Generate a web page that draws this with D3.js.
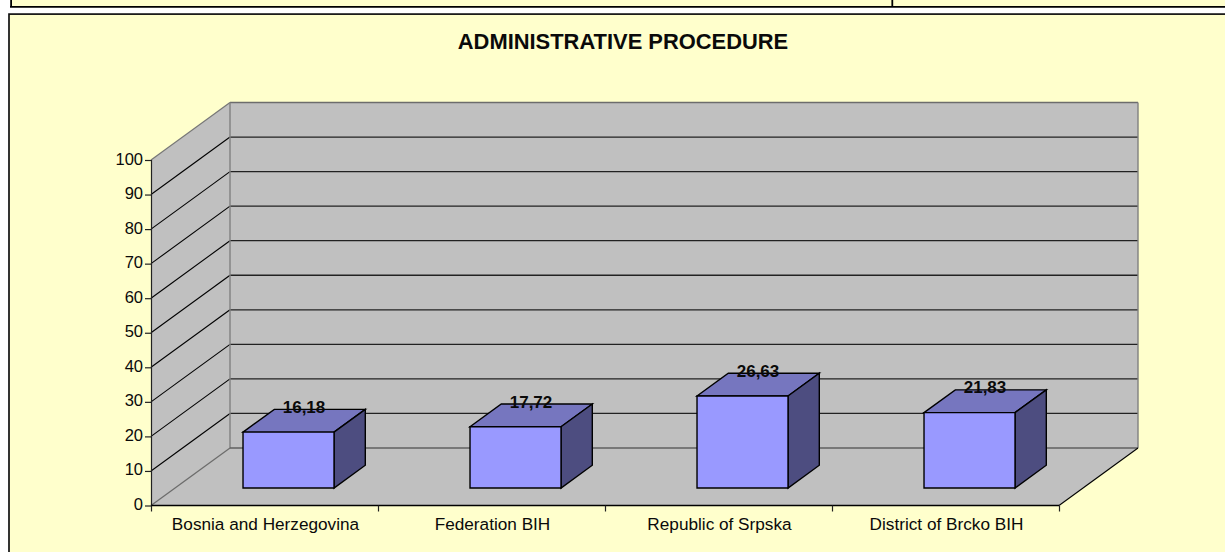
<!DOCTYPE html>
<html><head><meta charset="utf-8">
<script src="https://cdn.jsdelivr.net/npm/d3@7/dist/d3.min.js"></script>
<style>html,body{margin:0;padding:0;background:#fff}svg{display:block}text{font-family:"Liberation Sans",Arial,sans-serif;fill:#0a0a0a}</style>
</head><body><svg id="c" width="1225" height="552"></svg>
<script>
const categories = ["Bosnia and Herzegovina","Federation BIH","Republic of Srpska","District of Brcko BIH"];
const seriesValues = [16.18,17.72,26.63,21.83];
const valueLabels = ["16,18","17,72","26,63","21,83"];
const yTicks = [0,10,20,30,40,50,60,70,80,90,100];
const chartTitle = "ADMINISTRATIVE PROCEDURE";

const svg = d3.select("#c");
const bg = "#ffffcc", wall = "#c0c0c0";
const x = d3.scaleBand().domain(categories).range([151,1059]);
const y = d3.scaleLinear().domain([0,100]).range([505.5,160]);
const dx = 79, dy = -57.5;          // depth vector of the 3-D box
const barFront = 0.304, barBack = 0.70, barW = 91;

const poly = (pts,fill,stroke,sw) => svg.append("polygon").attr("points",pts.map(p=>p.join(",")).join(" "))
  .attr("fill",fill).attr("stroke",stroke||"none").attr("stroke-width",sw||0).attr("stroke-linejoin","miter");
const line = (a,b,stroke,sw) => svg.append("line").attr("x1",a[0]).attr("y1",a[1]).attr("x2",b[0]).attr("y2",b[1]).attr("stroke",stroke).attr("stroke-width",sw);

// page frames
svg.append("rect").attr("x",11).attr("y",0).attr("width",1214).attr("height",6).attr("fill",bg);
line([10,6.9],[1225,6.9],"#000",1.8);
line([11.1,0],[11.1,7],"#000",1.8);
line([892.3,0],[892.3,7],"#000",1.8);
svg.append("rect").attr("x",9).attr("y",14.1).attr("width",1240).attr("height",560).attr("fill",bg).attr("stroke","#111").attr("stroke-width",1.7);

svg.append("text").attr("x",623).attr("y",49).attr("text-anchor","middle")
  .style("font-weight","bold").style("font-size","21.9px").text(chartTitle);

const x0 = x.range()[0], x1 = x.range()[1], yb = y(0), yt = y(100);
// walls and floor
poly([[x0,yb],[x0+dx,yb+dy],[x0+dx,yt+dy],[x0,yt]],wall);
poly([[x0+dx,yb+dy],[x1+dx,yb+dy],[x1+dx,yt+dy],[x0+dx,yt+dy]],wall);
poly([[x0,yb],[x1,yb],[x1+dx,yb+dy],[x0+dx,yb+dy]],wall);

// gridlines
yTicks.filter(t=>t>0&&t<100).forEach(t=>{
  line([x0,y(t)],[x0+dx,y(t)+dy],"#000",1.1);
  line([x0+dx,y(t)+dy],[x1+dx,y(t)+dy],"#222",1.3);
});
// wall edges
line([x0,yt],[x0+dx,yt+dy],"#777",1.2);
line([x0+dx,yt+dy],[x1+dx,yt+dy],"#6c6c6c",1.4);
line([x1+dx,yt+dy],[x1+dx,yb+dy],"#808080",1.4);
line([x0+dx,yt+dy],[x0+dx,yb+dy],"#808080",1.4);
line([x0,yb],[x0+dx,yb+dy],"#6c6c6c",1.3);
line([x0+dx,yb+dy],[x1+dx,yb+dy],"#606060",1.4);
line([x1,yb],[x1+dx,yb+dy],"#000",1.1);

// bars
categories.forEach((c,i)=>{
  const v = seriesValues[i];
  const cx = x(c)+x.bandwidth()/2 + dx*barFront;
  const l = cx - barW/2, r = l + barW;
  const fy0 = yb + dy*barFront, fy1 = y(v) + dy*barFront;
  const sx = (barBack-barFront)*dx, sy = (barBack-barFront)*dy;
  poly([[l,fy1],[r,fy1],[r+sx,fy1+sy],[l+sx,fy1+sy]],"#7676bf","#000",1.4);
  poly([[r,fy0],[r,fy1],[r+sx,fy1+sy],[r+sx,fy0+sy]],"#4d4d80","#000",1.4);
  poly([[l,fy0],[r,fy0],[r,fy1],[l,fy1]],"#9999ff","#000",1.4);
  svg.append("text").attr("x",cx+15.5).attr("y",fy1+sy+3.5).attr("text-anchor","middle")
    .style("font-weight","bold").style("font-size","17px").text(valueLabels[i]);
});

// axes
const axisY = d3.axisLeft(y).tickValues(yTicks).tickSize(6).tickPadding(2).tickFormat(d3.format("d"));
const gy = svg.append("g").attr("transform","translate(151,0)").call(axisY);
gy.selectAll("text").style("font-size","16.5px").attr("dy","4px");
gy.selectAll("line,path").attr("stroke","#222").attr("stroke-width",1.2);
gy.select("path").attr("d",`M0.5,${yt}V${yb}`);

line([x0,yb],[x1,yb],"#000",1.5);
d3.range(5).forEach(i=>line([x0+i*x.bandwidth()+0.5,yb],[x0+i*x.bandwidth()+0.5,yb+6],"#222",1.2));
categories.forEach(c=>{
  svg.append("text").attr("x",x(c)+x.bandwidth()/2+1).attr("y",530).attr("text-anchor","middle")
    .style("font-size","17.2px").text(c);
});
</script></body></html>
